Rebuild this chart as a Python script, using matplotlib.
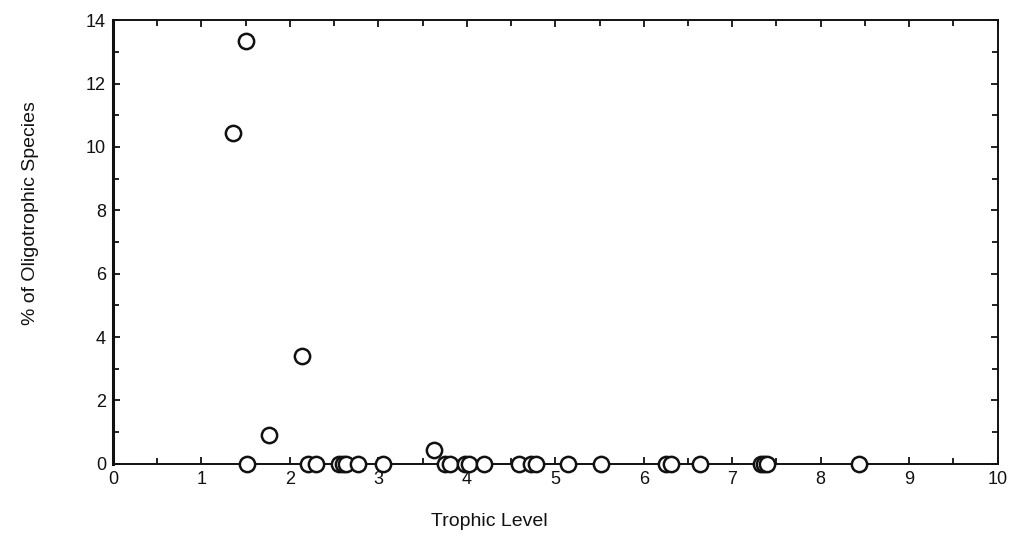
import matplotlib
matplotlib.use("Agg")
import matplotlib.pyplot as plt
from matplotlib.ticker import MultipleLocator

trophic_level = [1.36, 1.51, 2.14, 1.76, 3.63,
                 1.52, 2.20, 2.30, 2.55, 2.60, 2.63, 2.77, 3.05,
                 3.75, 3.81, 3.98, 4.03, 4.20, 4.59, 4.72, 4.78,
                 5.14, 5.52, 6.25, 6.31, 6.64, 7.32, 7.36, 7.39, 8.43]
pct_oligotrophic = [10.45, 13.35, 3.4, 0.9, 0.45,
                    0, 0, 0, 0, 0, 0, 0, 0,
                    0, 0, 0, 0, 0, 0, 0, 0,
                    0, 0, 0, 0, 0, 0, 0, 0, 0]
x_ticks = [0, 1, 2, 3, 4, 5, 6, 7, 8, 9, 10]
y_ticks = [0, 2, 4, 6, 8, 10, 12, 14]

plt.rcParams['font.family'] = ['Liberation Sans', 'DejaVu Sans']

fig = plt.figure(figsize=(10.17, 5.45), dpi=100)
ax = fig.add_axes([0.111, 0.149, 0.870, 0.814])

ax.plot(trophic_level, pct_oligotrophic, linestyle='none', marker='o',
        markersize=11, markerfacecolor='white', markeredgecolor='#111111',
        markeredgewidth=1.8, clip_on=False, zorder=3)

ax.set_xlim(0, 10)
ax.set_ylim(0, 14)
ax.set_xticks(x_ticks)
ax.set_yticks(y_ticks)
ax.xaxis.set_minor_locator(MultipleLocator(0.5))
ax.yaxis.set_minor_locator(MultipleLocator(1))
ax.tick_params(which='both', direction='in', top=True, right=True,
               labelsize=13, colors='#111111', width=1.3)
ax.tick_params(which='major', length=5, pad=5)
ax.tick_params(which='minor', length=4)

for s in ax.spines.values():
    s.set_linewidth(1.4)
    s.set_color('#111111')
ax.spines['left'].set_linewidth(2.2)

ax.set_xlabel('Trophic Level', fontsize=14, color='#111111')
ax.xaxis.set_label_coords(0.426, -0.11)
ax.set_ylabel('% of Oligotrophic Species', fontsize=14, color='#111111')
ax.yaxis.set_label_coords(-0.083, 0.565)

fig.savefig('out.png', dpi=100)
